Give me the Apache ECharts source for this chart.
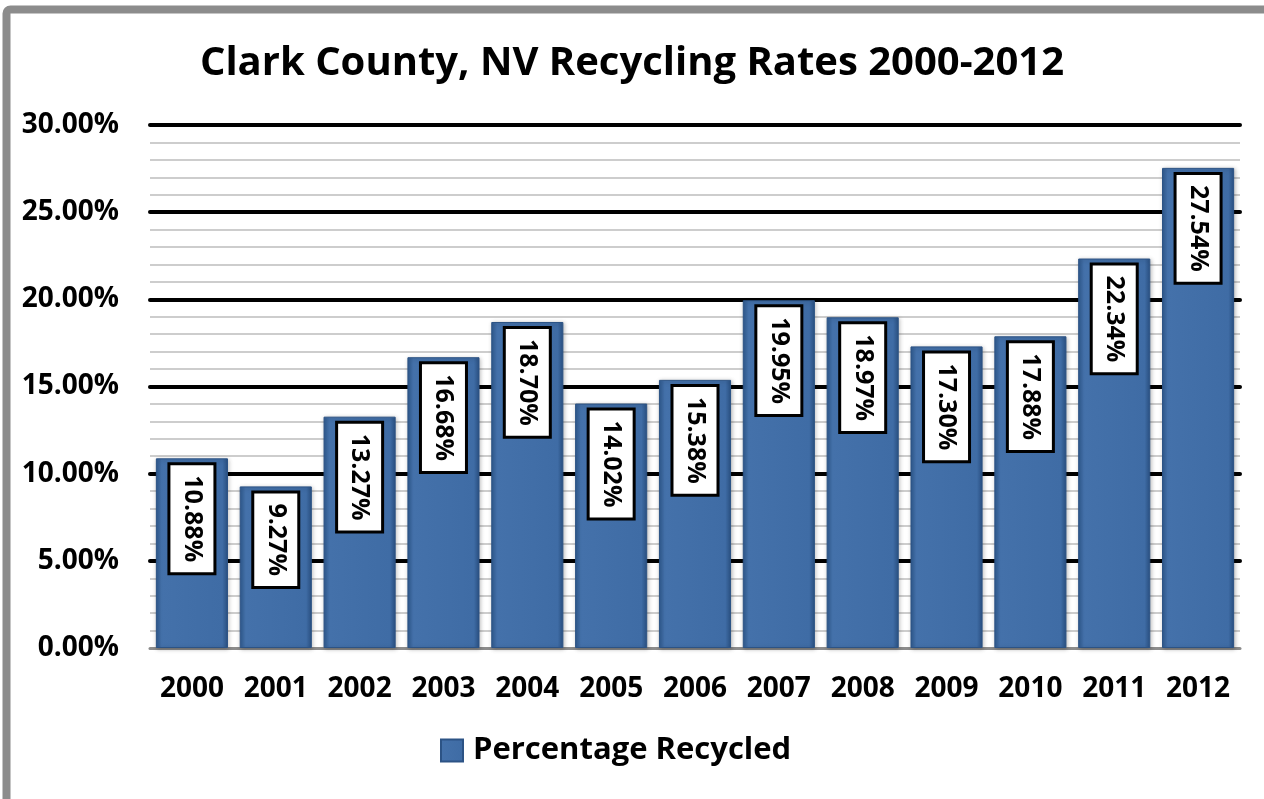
<!DOCTYPE html>
<html>
<head>
<meta charset="utf-8">
<script src="https://cdn.jsdelivr.net/npm/echarts@6/dist/echarts.min.js"></script>
<style>html,body{margin:0;padding:0;background:#fff}#c{width:1264px;height:799px}</style>
</head>
<body>
<div id="c"></div>
<script>
const titleText = 'Clark County, NV Recycling Rates 2000-2012';
const seriesName = 'Percentage Recycled';
const years = ['2000','2001','2002','2003','2004','2005','2006','2007','2008','2009','2010','2011','2012'];
const rates = [0.1088, 0.0927, 0.1327, 0.1668, 0.1870, 0.1402, 0.1538, 0.1995, 0.1897, 0.1730, 0.1788, 0.2234, 0.2754];

const FONT = '"Open Sans", Lato, sans-serif';
const chart = echarts.init(document.getElementById('c'), null, {renderer: 'canvas'});
const barColor = new echarts.graphic.LinearGradient(0, 0, 1, 0, [
  {offset: 0, color: '#2f5a8f'},
  {offset: 0.08, color: '#4471aa'},
  {offset: 0.92, color: '#3f6ca5'},
  {offset: 1, color: '#2a5183'}
]);
chart.setOption({
  animation: false,
  backgroundColor: '#fff',
  graphic: [{
    type: 'rect', z: 100, silent: true,
    shape: {x: 6.5, y: 9.5, width: 1400, height: 1000, r: 4},
    style: {fill: 'none', stroke: '#8c8c8c', lineWidth: 8}
  }],
  title: {
    text: titleText, left: 'center', top: 39,
    textStyle: {fontFamily: FONT, fontWeight: 'bold', fontSize: 40, color: '#000'}
  },
  legend: {
    bottom: 28, left: 435,
    itemWidth: 22, itemHeight: 22, itemGap: 10,
    icon: 'rect',
    textStyle: {fontFamily: FONT, fontWeight: 'bold', fontSize: 31, color: '#000', padding: [0, 0, 0, 5]},
    data: [seriesName]
  },
  grid: {left: 150, right: 24, top: 125, bottom: 151},
  xAxis: {
    type: 'category', data: years,
    axisLine: {show: true, lineStyle: {color: '#8c8c8c', width: 3}},
    axisTick: {show: false},
    axisLabel: {fontFamily: FONT, fontWeight: 'bold', fontSize: 28, color: '#000', margin: 27}
  },
  yAxis: {
    type: 'value', min: 0, max: 0.30, interval: 0.05,
    axisLine: {show: false}, axisTick: {show: false},
    axisLabel: {
      fontFamily: FONT, fontWeight: 'bold', fontSize: 28, color: '#000', margin: 31,
      formatter: v => (v * 100).toFixed(2) + '%'
    },
    splitLine: {show: true, showMinLine: false, lineStyle: {color: '#000', width: 4, cap: 'round'}},
    minorTick: {show: false, splitNumber: 5},
    minorSplitLine: {show: true, lineStyle: {color: '#bdbdbd', width: 1.5}}
  },
  series: [{
    name: seriesName, type: 'bar', data: rates,
    barCategoryGap: '14%',
    itemStyle: {color: barColor, borderColor: '#2c5385', borderWidth: 1,
      shadowColor: 'rgba(0,0,0,0.25)', shadowBlur: 4, shadowOffsetX: 1, shadowOffsetY: 1},
    label: {
      show: true, position: 'insideTop', distance: 7, rotate: -90,
      align: 'left', verticalAlign: 'middle',
      formatter: p => (p.value * 100).toFixed(2) + '%',
      fontFamily: FONT, fontWeight: 'bold', fontSize: 25, color: '#000', lineHeight: 32,
      backgroundColor: '#fff', borderColor: '#000', borderWidth: 3,
      padding: [7, 10, 4, 10]
    }
  }]
});
</script>
</body>
</html>
